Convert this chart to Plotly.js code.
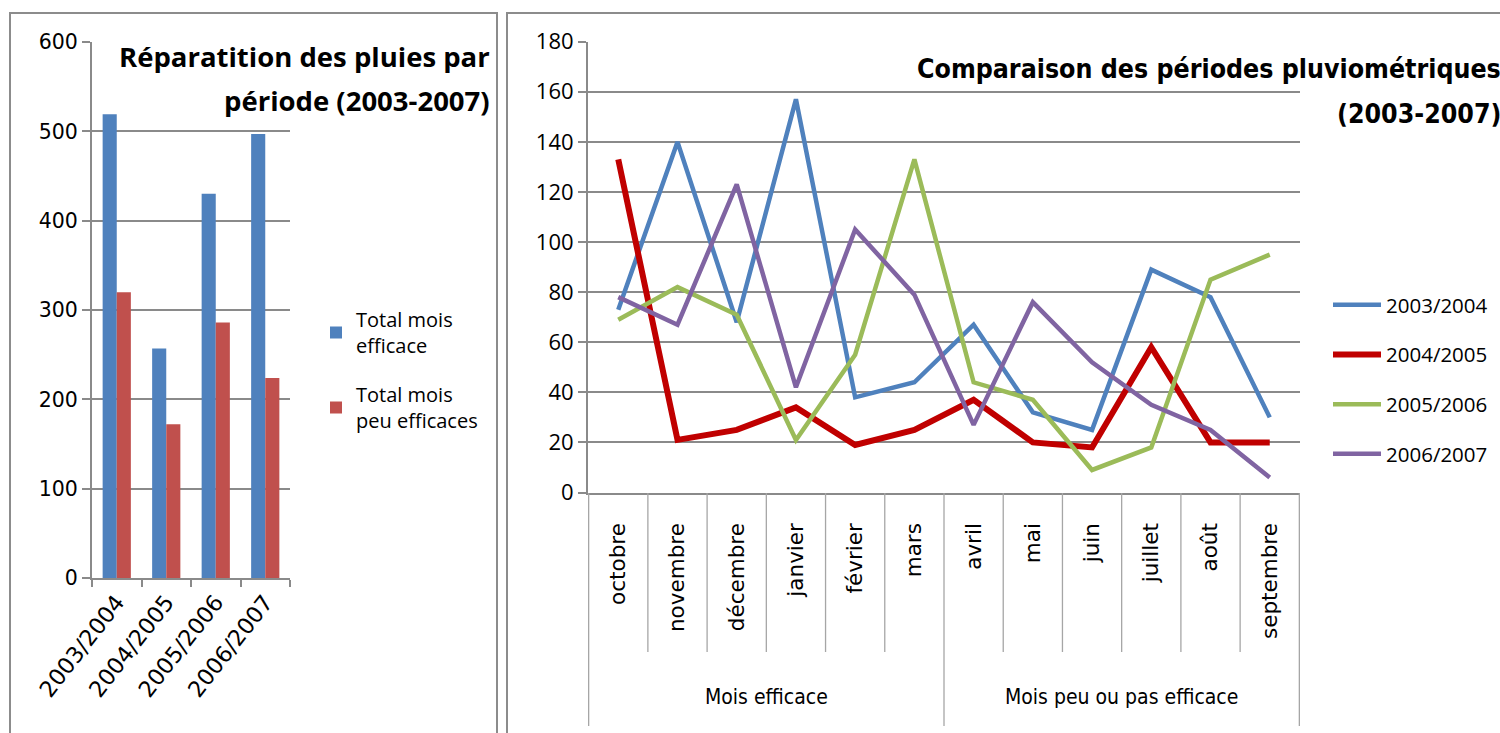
<!DOCTYPE html>
<html>
<head>
<meta charset="utf-8">
<script src="https://cdn.plot.ly/plotly-3.0.1.min.js"></script>
<style>
html,body{margin:0;padding:0;background:#fff;}
#chart{width:1500px;height:733px;}
</style>
</head>
<body>
<div id="chart"></div>
<script>
// ---- Left chart data ----
const periods = ['2003/2004', '2004/2005', '2005/2006', '2006/2007'];
const totalEfficace = [519, 257, 430, 497];
const totalPeuEfficaces = [320, 172, 286, 224];
const barNames = ['Total mois<br>efficace', 'Total mois<br>peu efficaces'];

// ---- Right chart data ----
const months = ['octobre', 'novembre', 'décembre', 'janvier', 'février', 'mars',
                'avril', 'mai', 'juin', 'juillet', 'août', 'septembre'];
const monthGroups = ['Mois efficace', 'Mois efficace', 'Mois efficace', 'Mois efficace', 'Mois efficace', 'Mois efficace',
                     'Mois peu ou pas efficace', 'Mois peu ou pas efficace', 'Mois peu ou pas efficace',
                     'Mois peu ou pas efficace', 'Mois peu ou pas efficace', 'Mois peu ou pas efficace'];
const seriesNames = ['2003/2004', '2004/2005', '2005/2006', '2006/2007'];
const rain2003 = [73, 140, 68, 157, 38, 44, 67, 32, 25, 89, 78, 30];
const rain2004 = [133, 21, 25, 34, 19, 25, 37, 20, 18, 58, 20, 20];
const rain2005 = [69, 82, 71, 21, 55, 133, 44, 37, 9, 18, 85, 95];
const rain2006 = [78, 67, 123, 42, 105, 79, 27, 76, 52, 35, 25, 6];

const leftTitleLines = ['Réparatition des pluies par', 'période (2003-2007)'];
const rightTitleLines = ['Comparaison des périodes pluviométriques', '(2003-2007)'];

// ---- helpers (pixel -> paper) ----
const W = 1500, H = 733;
const px = v => v / W;
const py = v => 1 - v / H;

const grid = '#8a8a8a';
const fontWide = 'DejaVu Sans, Verdana, sans-serif';
const fontNarrow = 'Liberation Sans Narrow, DejaVu Sans Condensed, Open Sans, sans-serif';

const lineColors = ['#4F81BD', '#C00000', '#9BBB59', '#8064A2'];
const lineWidths = [4.5, 6, 4.5, 4.5];
const lineData = [rain2003, rain2004, rain2005, rain2006];

const traces = [
  {type: 'bar', x: periods, y: totalEfficace, name: barNames[0], marker: {color: '#4F81BD'},
   xaxis: 'x', yaxis: 'y', legend: 'legend', legendgroup: 'b1', hoverinfo: 'y'},
  {type: 'bar', x: periods, y: totalPeuEfficaces, name: barNames[1], marker: {color: '#C0504D'},
   xaxis: 'x', yaxis: 'y', legend: 'legend', legendgroup: 'b2', hoverinfo: 'y'}
];
seriesNames.forEach((n, i) => {
  traces.push({type: 'scatter', mode: 'lines', x: months, y: lineData[i], name: n,
    line: {color: lineColors[i], width: lineWidths[i]},
    xaxis: 'x2', yaxis: 'y2', legend: 'legend2', legendgroup: 'l' + i});
});

// shapes: panel borders + category dividers of the right chart
const shapes = [
  {type: 'rect', xref: 'paper', yref: 'paper', x0: px(10), x1: px(497), y0: py(760), y1: py(13),
   line: {color: '#8c8c8c', width: 2}, fillcolor: 'rgba(0,0,0,0)', layer: 'below'},
  {type: 'rect', xref: 'paper', yref: 'paper', x0: px(507), x1: px(1520), y0: py(760), y1: py(13),
   line: {color: '#8c8c8c', width: 2}, fillcolor: 'rgba(0,0,0,0)', layer: 'below'}
];
for (let i = 0; i <= months.length; i++) {
  const isGroupEdge = (i === 0 || i === months.length || monthGroups[i] !== monthGroups[i - 1]);
  shapes.push({type: 'line', xref: 'x2', yref: 'paper', x0: i - 0.5, x1: i - 0.5,
    y0: py(493), y1: py(isGroupEdge ? 726 : 652), line: {color: '#a6a6a6', width: 1.3}});
}

// titles and group labels
const annotations = [];
const leftTitleY = [57, 100];
leftTitleLines.forEach((t, i) => annotations.push({
  xref: 'paper', yref: 'paper', x: px(492), y: py(leftTitleY[i]), xanchor: 'right', yanchor: 'middle',
  text: '<b>' + t + '</b>', showarrow: false, font: {family: 'Open Sans, sans-serif', size: 27.5, color: '#000'}}));
const rightTitleY = [68, 113];
rightTitleLines.forEach((t, i) => annotations.push({
  xref: 'paper', yref: 'paper', x: px(1503), y: py(rightTitleY[i]), xanchor: 'right', yanchor: 'middle',
  text: '<b>' + t + '</b>', showarrow: false, font: {family: fontNarrow, size: 26.5, color: '#000'}}));

const uniqueGroups = [...new Set(monthGroups)];
uniqueGroups.forEach(g => {
  const first = monthGroups.indexOf(g), last = monthGroups.lastIndexOf(g);
  annotations.push({xref: 'x2', yref: 'paper', x: (first + last) / 2, y: py(697), xanchor: 'center', yanchor: 'middle',
    text: g, showarrow: false, font: {family: fontNarrow, size: 21, color: '#000'}});
});

const layout = {
  width: W, height: H,
  margin: {l: 0, r: 0, t: 0, b: 0},
  paper_bgcolor: '#fff', plot_bgcolor: 'rgba(0,0,0,0)',
  barmode: 'group', bargap: 0.43, bargroupgap: 0,
  showlegend: true,
  xaxis: {domain: [px(92), px(290)], type: 'category', anchor: 'y',
    showline: true, linecolor: grid, linewidth: 2, showgrid: false,
    ticks: 'outside', tickson: 'boundaries', ticklen: 7, tickcolor: grid, tickwidth: 2,
    tickangle: -52, tickfont: {family: fontWide, size: 22.5, color: '#000'}},
  yaxis: {domain: [py(578), py(42)], range: [0, 600], dtick: 100, anchor: 'x',
    showline: true, linecolor: grid, linewidth: 2, gridcolor: grid, gridwidth: 2, zeroline: false,
    ticks: 'outside', ticklen: 8, tickcolor: grid, tickwidth: 2,
    tickfont: {family: fontWide, size: 20.5, color: '#000'}},
  xaxis2: {domain: [px(588), px(1300)], type: 'category', anchor: 'y2',
    showline: true, linecolor: grid, linewidth: 2, showgrid: false, ticks: '',
    tickangle: -90, ticklabelstandoff: 20, tickfont: {family: fontWide, size: 21.5, color: '#000'}},
  yaxis2: {domain: [py(492.5), py(41.7)], range: [0, 180], dtick: 20, anchor: 'x2',
    showline: true, linecolor: grid, linewidth: 2, gridcolor: grid, gridwidth: 2, zeroline: false,
    ticks: 'outside', ticklen: 8, tickcolor: grid, tickwidth: 2,
    tickfont: {family: 'Open Sans, sans-serif', size: 22, color: '#000'}},
  legend: {x: px(316), y: py(300), xanchor: 'left', yanchor: 'top', traceorder: 'grouped', tracegroupgap: 20,
    bgcolor: 'rgba(0,0,0,0)', font: {family: 'Open Sans, sans-serif', size: 20, color: '#000'}, itemwidth: 30},
  legend2: {x: px(1328), y: py(285), xanchor: 'left', yanchor: 'top', traceorder: 'grouped', tracegroupgap: 20,
    bgcolor: 'rgba(0,0,0,0)', font: {family: 'Open Sans, sans-serif', size: 20.5, color: '#000'}, itemwidth: 48},
  shapes: shapes,
  annotations: annotations
};

Plotly.newPlot('chart', traces, layout, {displayModeBar: false, staticPlot: true});
</script>
</body>
</html>
